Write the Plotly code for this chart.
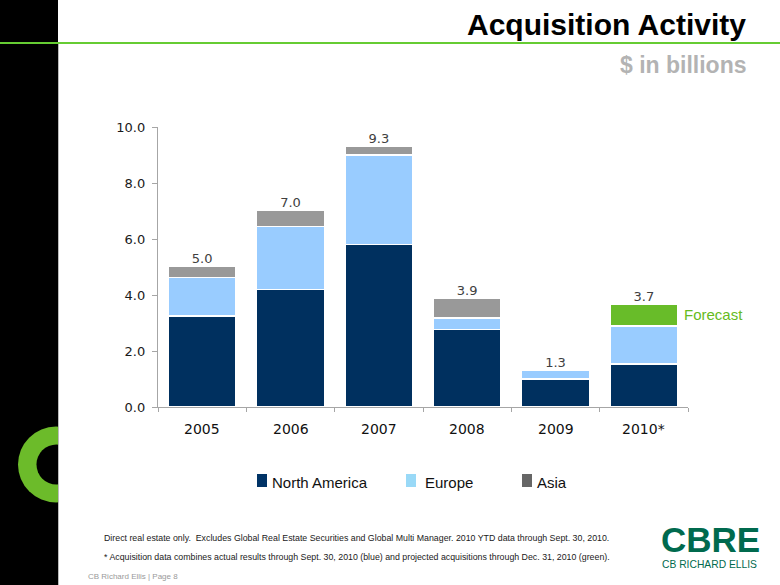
import plotly.graph_objects as go

# ---------------- data ----------------
years = ["2005", "2006", "2007", "2008", "2009", "2010*"]
north_america = [3.25, 4.20, 5.80, 2.77, 1.00, 1.53]
europe = [1.37, 2.25, 3.20, 0.40, 0.32, 1.37]
asia = [0.40, 0.58, 0.30, 0.72, 0.0, 0.0]
forecast = [0.0, 0.0, 0.0, 0.0, 0.0, 0.78]
total_labels = ["5.0", "7.0", "9.3", "3.9", "1.3", "3.7"]
y_tick_vals = [0, 2, 4, 6, 8, 10]
y_tick_text = ["0.0", "2.0", "4.0", "6.0", "8.0", "10.0"]
legend_names = ["North America", "Europe", "Asia"]

# ---------------- geometry helpers (page pixels -> paper) ----------------
W, H = 780, 585
ML, MR, MT, MB = 158, 92, 127, 178
PW = W - ML - MR
PH = H - MT - MB


def xp(px):
    return (px - ML) / PW


def yp(py):
    return (H - MB - py) / PH


C_NA = "#00305f"
C_EU = "#99ccff"
C_AS = "#999999"
C_FC = "#68bc29"

fig = go.Figure()
for name, vals, col in [
    ("North America", north_america, C_NA),
    ("Europe", europe, C_EU),
    ("Asia", asia, C_AS),
    ("Forecast", forecast, C_FC),
]:
    fig.add_trace(go.Bar(
        x=years, y=vals, name=name,
        marker=dict(color=col, line=dict(color="white", width=1.5)),
        showlegend=False, hoverinfo="skip",
    ))

totals = [sum(v) for v in zip(north_america, europe, asia, forecast)]

# total labels above bars
fig.add_trace(go.Scatter(
    x=years, y=totals, mode="text", text=total_labels, textposition="top center",
    textfont=dict(family="DejaVu Sans", size=13, color="#404040"),
    showlegend=False, hoverinfo="skip", cliponaxis=False,
))

annotations = []

# category labels under the axis (x given as category index)
for i, yr in enumerate(years):
    annotations.append(dict(
        x=i, y=yp(429), xref="x", yref="paper", text=yr, showarrow=False,
        xanchor="center", yanchor="middle",
        font=dict(family="DejaVu Sans", size=14, color="#111111"),
    ))

# Forecast label next to the green segment
fi = len(years) - 1
annotations.append(dict(
    x=fi, y=north_america[fi] + europe[fi] + forecast[fi] / 2, xref="x", yref="y",
    text="Forecast", showarrow=False, xanchor="left", xshift=38,
    font=dict(family="Liberation Sans", size=15, color="#66bb22"),
))

# Title and subtitle
annotations.append(dict(
    x=xp(748), y=yp(24), xref="paper", yref="paper", text="<b>Acquisition Activity</b>",
    showarrow=False, xanchor="right", yanchor="middle",
    font=dict(family="Liberation Sans", size=30, color="#000000"),
))
annotations.append(dict(
    x=xp(749), y=yp(65), xref="paper", yref="paper", text="<b>$ in billions</b>",
    showarrow=False, xanchor="right", yanchor="middle",
    font=dict(family="Liberation Sans", size=23, color="#b3b3b3"),
))

# Custom legend
legend_cols = ["#003366", "#99d9f7", "#666666"]
legend_sq_x = [257, 406, 522]
legend_txt_x = [270, 423, 535]
shapes = []
for name, col, sx, tx in zip(legend_names, legend_cols, legend_sq_x, legend_txt_x):
    shapes.append(dict(type="rect", xref="paper", yref="paper",
                       x0=xp(sx), x1=xp(sx + 10), y0=yp(487), y1=yp(474),
                       fillcolor=col, line=dict(width=0)))
    annotations.append(dict(
        x=xp(tx), y=yp(482), xref="paper", yref="paper", text=name, showarrow=False,
        xanchor="left", yanchor="middle",
        font=dict(family="Liberation Sans", size=15, color="#111111"),
    ))

# Footnotes
annotations.append(dict(
    x=xp(102), y=yp(538), xref="paper", yref="paper",
    text="Direct real estate only.  Excludes Global Real Estate Securities and Global Multi Manager. 2010 YTD data through Sept. 30, 2010.",
    showarrow=False, xanchor="left", yanchor="middle",
    font=dict(family="Liberation Sans", size=8.8, color="#1a1a1a"),
))
annotations.append(dict(
    x=xp(102), y=yp(557), xref="paper", yref="paper",
    text="* Acquisition data combines actual results through Sept. 30, 2010 (blue) and projected acquisitions through Dec. 31, 2010 (green).",
    showarrow=False, xanchor="left", yanchor="middle",
    font=dict(family="Liberation Sans", size=8.8, color="#1a1a1a"),
))
annotations.append(dict(
    x=xp(86), y=yp(576), xref="paper", yref="paper",
    text="CB Richard Ellis | Page 8",
    showarrow=False, xanchor="left", yanchor="middle",
    font=dict(family="Liberation Sans", size=8, color="#9a9a9a"),
))

# CBRE logo text
annotations.append(dict(
    x=xp(710), y=yp(539), xref="paper", yref="paper", text="<b>CBRE</b>",
    showarrow=False, xanchor="center", yanchor="middle",
    font=dict(family="Liberation Sans", size=35, color="#006a4e"),
))
annotations.append(dict(
    x=xp(709), y=yp(564), xref="paper", yref="paper", text="CB RICHARD ELLIS",
    showarrow=False, xanchor="center", yanchor="middle",
    font=dict(family="Liberation Sans", size=10.3, color="#006a4e"),
))

# Decorative page elements
shapes += [
    dict(type="rect", xref="paper", yref="paper", x0=xp(0), x1=xp(58), y0=yp(585), y1=yp(0),
         fillcolor="#000000", line=dict(width=0), layer="above"),
    dict(type="circle", xref="paper", yref="paper", x0=xp(18), x1=xp(94), y0=yp(502.5), y1=yp(426.5),
         fillcolor="#6cbb2a", line=dict(width=0), layer="above"),
    dict(type="circle", xref="paper", yref="paper", x0=xp(36.5), x1=xp(76.5), y0=yp(484.5), y1=yp(444.5),
         fillcolor="#000000", line=dict(width=0), layer="above"),
    dict(type="rect", xref="paper", yref="paper", x0=xp(58), x1=xp(97), y0=yp(510), y1=yp(420),
         fillcolor="#ffffff", line=dict(width=0), layer="above"),
    dict(type="line", xref="paper", yref="paper", x0=xp(58.5), x1=xp(58.5), y0=yp(585), y1=yp(44),
         line=dict(color="#bbbbbb", width=1), layer="above"),
    dict(type="line", xref="paper", yref="paper", x0=xp(0), x1=xp(780), y0=yp(43), y1=yp(43),
         line=dict(color="#66cc33", width=2), layer="above"),
]

fig.update_layout(
    width=W, height=H,
    margin=dict(l=ML, r=MR, t=MT, b=MB, pad=0),
    barmode="stack", bargap=0.23,
    plot_bgcolor="white", paper_bgcolor="white",
    showlegend=False,
    annotations=annotations, shapes=shapes,
    xaxis=dict(
        type="category", categoryorder="array", categoryarray=years,
        range=[-0.5, len(years) - 0.5], autorange=False,
        showline=True, linecolor="#a6a6a6", linewidth=1,
        ticks="outside", tickson="boundaries", ticklen=4, tickcolor="#a6a6a6",
        showticklabels=False, showgrid=False, fixedrange=True,
    ),
    yaxis=dict(
        range=[0, 10], tickvals=y_tick_vals, ticktext=[t + "\u00a0" for t in y_tick_text],
        showline=True, linecolor="#a6a6a6", linewidth=1,
        ticks="outside", ticklen=5, tickcolor="#a6a6a6",
        tickfont=dict(family="DejaVu Sans", size=13, color="#1a1a1a"),
        showgrid=False, zeroline=False, fixedrange=True,
    ),
)

fig.write_html("out.html", config={"displayModeBar": False},
               post_script="document.body.style.margin='0';")
